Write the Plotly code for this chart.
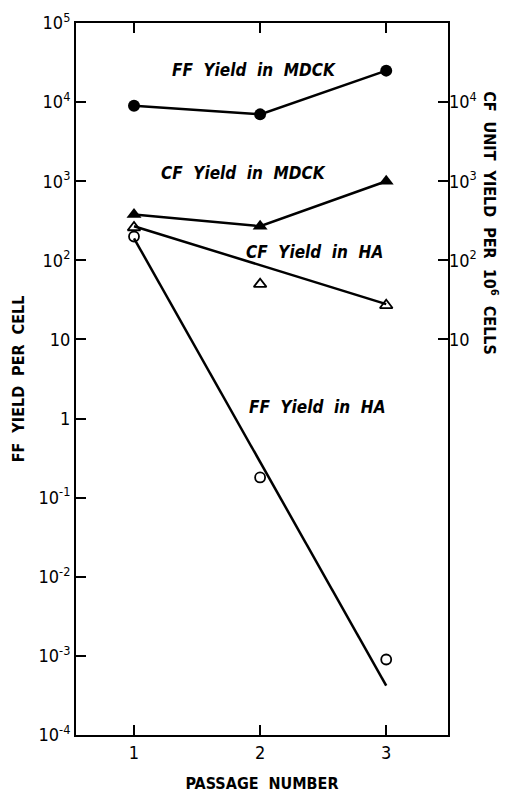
import plotly.graph_objects as go

passage = [1, 2, 3]
ff_mdck = [9000, 7000, 25000]
cf_mdck = [380, 270, 1000]
cf_ha = [260, 50, 27]
ff_ha = [200, 0.18, 0.0009]

fit_x = [1, 3]
cf_ha_fit = [270, 28]
ff_ha_fit = [190, 0.00042]

left_tickvals = [1e5, 1e4, 1e3, 1e2, 10, 1, 1e-1, 1e-2, 1e-3, 1e-4]
left_ticktext = ["10<sup>5</sup>", "10<sup>4</sup>", "10<sup>3</sup>", "10<sup>2</sup>", "10", "1",
                 "10<sup>-1</sup>", "10<sup>-2</sup>", "10<sup>-3</sup>", "10<sup>-4</sup>"]
right_tickvals = [1e4, 1e3, 1e2, 10]
right_ticktext = ["10<sup>4</sup>", "10<sup>3</sup>", "10<sup>2</sup>", "10"]
x_tickvals = [1, 2, 3]
x_ticktext = ["1", "2", "3"]

FONT = "DejaVu Sans Condensed, Liberation Sans Narrow, Arial Narrow, sans-serif"
BLK = "black"

fig = go.Figure()
fig.add_trace(go.Scatter(x=passage, y=ff_mdck, mode="lines+markers",
                         line=dict(color=BLK, width=2.5),
                         marker=dict(symbol="circle", size=12, color=BLK)))
fig.add_trace(go.Scatter(x=passage, y=cf_mdck, mode="lines+markers",
                         line=dict(color=BLK, width=2.5),
                         marker=dict(symbol="triangle-up", size=13, color=BLK)))
fig.add_trace(go.Scatter(x=fit_x, y=cf_ha_fit, mode="lines",
                         line=dict(color=BLK, width=2.5)))
fig.add_trace(go.Scatter(x=passage, y=cf_ha, mode="markers",
                         marker=dict(symbol="triangle-up-open", size=11, color=BLK,
                                     line=dict(width=1.8, color=BLK))))
fig.add_trace(go.Scatter(x=fit_x, y=ff_ha_fit, mode="lines",
                         line=dict(color=BLK, width=2.5)))
fig.add_trace(go.Scatter(x=passage, y=ff_ha, mode="markers",
                         marker=dict(symbol="circle-open", size=10, color=BLK,
                                     line=dict(width=1.8, color=BLK))))
# dummy for right axis
fig.add_trace(go.Scatter(x=[None], y=[None], yaxis="y2", showlegend=False))

ann_font = dict(family=FONT, size=17, color=BLK)
# annotation y positions on log axes are given as log10 exponents
for txt, xv, yv in [("<b><i>FF  Yield  in  MDCK</i></b>", 1.95, 4.41),
                    ("<b><i>CF  Yield  in  MDCK</i></b>", 1.87, 3.10),
                    ("<b><i>CF  Yield  in  HA</i></b>", 2.43, 2.10),
                    ("<b><i>FF  Yield  in  HA</i></b>", 2.45, 0.14)]:
    fig.add_annotation(x=xv, y=yv, text=txt, showarrow=False, font=ann_font)

fig.update_layout(
    width=507, height=795,
    margin=dict(l=76, r=59, t=23, b=60, autoexpand=False),
    paper_bgcolor="white", plot_bgcolor="white",
    showlegend=False,
    font=dict(family=FONT, color=BLK, size=15),
    xaxis=dict(range=[0.54, 3.49], tickvals=x_tickvals, ticktext=x_ticktext,
               ticks="inside", ticklen=10, tickwidth=2, tickcolor=BLK,
               showline=True, linecolor=BLK, linewidth=2, mirror="ticks",
               showgrid=False, zeroline=False, automargin=False,
               tickfont=dict(size=18),
               title=dict(text="<b>PASSAGE  NUMBER</b>", font=dict(size=16), standoff=16)),
    yaxis=dict(type="log", range=[-4, 5], tickvals=left_tickvals, ticktext=left_ticktext,
               ticks="inside", ticklen=10, tickwidth=2, tickcolor=BLK,
               showline=True, linecolor=BLK, linewidth=2,
               mirror=True, showgrid=False, zeroline=False, automargin=False,
               tickfont=dict(size=18),
               title=dict(text="<b>FF  YIELD  PER  CELL</b>", font=dict(size=16), standoff=10)),
    yaxis2=dict(type="log", range=[-4, 5], overlaying="y", side="right",
                tickvals=right_tickvals, ticktext=right_ticktext,
                ticks="inside", ticklen=10, tickwidth=2, tickcolor=BLK,
                showline=False, showgrid=False, zeroline=False, automargin=False,
                tickfont=dict(size=18)),
)
fig.add_annotation(x=1.0, xref="paper", xanchor="center", yanchor="middle",
                   xshift=43, y=2.47, yref="y",
                   text="<b>CF  UNIT  YIELD  PER  10<sup>6</sup>  CELLS</b>",
                   textangle=90, showarrow=False, font=dict(family=FONT, size=16, color=BLK))

fig.write_html("out.html")
